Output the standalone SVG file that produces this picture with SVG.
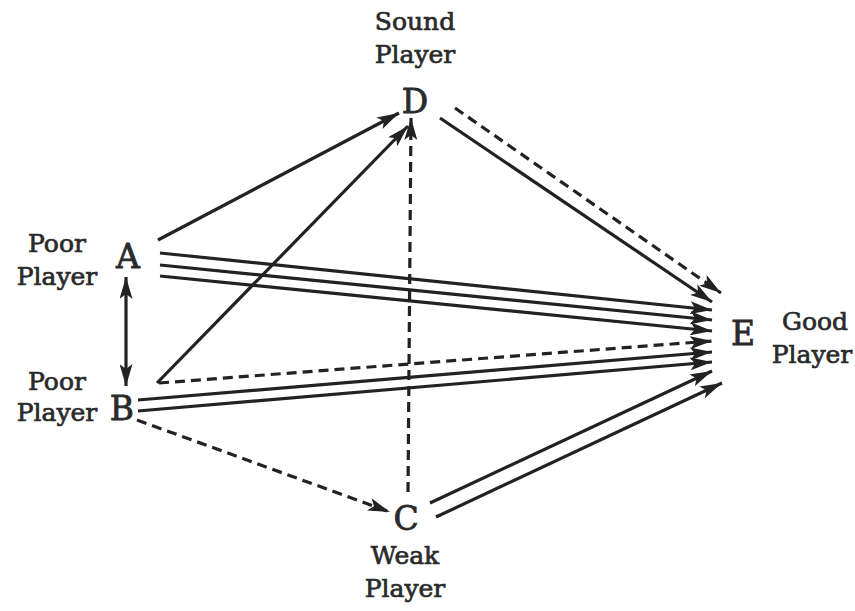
<svg xmlns="http://www.w3.org/2000/svg" width="855" height="611" viewBox="0 0 855 611">
  <style>
    .lbl { font-family: "DejaVu Serif", "Liberation Serif", serif; font-size: 25px; fill: #2a2a2a; stroke: #2a2a2a; stroke-width: 0.7; text-anchor: middle; }
    .node { font-family: "DejaVu Serif", "Liberation Serif", serif; font-size: 33px; fill: #2a2a2a; stroke: #2a2a2a; stroke-width: 0.8; text-anchor: middle; }
    .solid { stroke: #222; stroke-width: 3.2; fill: none; marker-end: url(#ah); }
    .dash { stroke: #222; stroke-width: 3.2; fill: none; stroke-dasharray: 10 6; marker-end: url(#ah); }
  </style>
  <defs>
    <marker id="ah" markerUnits="userSpaceOnUse" markerWidth="24" markerHeight="13" refX="22" refY="6.5" orient="auto">
      <path d="M0,0 L22,6.5 L0,13 L5,6.5 z" fill="#222"/>
    </marker>
    <marker id="ahs" markerUnits="userSpaceOnUse" markerWidth="24" markerHeight="13" refX="22" refY="6.5" orient="auto-start-reverse">
      <path d="M0,0 L22,6.5 L0,13 L5,6.5 z" fill="#222"/>
    </marker>
  </defs>
  <rect width="855" height="611" fill="#ffffff"/>

  <g id="connectors">
    <!-- A to D -->
    <line class="solid" x1="158" y1="240" x2="399" y2="113"/>
    <!-- B to D -->
    <line class="solid" x1="157" y1="383" x2="408" y2="126"/>
    <!-- C to D (dashed) -->
    <line class="dash" x1="408" y1="492" x2="411" y2="118"/>
    <!-- D to E -->
    <line class="solid" x1="440" y1="118" x2="712" y2="302"/>
    <line class="dash" x1="455" y1="108" x2="721" y2="293"/>
    <!-- A to E, three strands -->
    <line class="solid" x1="160" y1="253" x2="712" y2="310"/>
    <line class="solid" x1="160" y1="265" x2="712" y2="320"/>
    <line class="solid" x1="160" y1="276" x2="712" y2="331"/>
    <!-- B to E -->
    <line class="dash" x1="159" y1="383" x2="712" y2="341"/>
    <line class="solid" x1="138" y1="400" x2="712" y2="352"/>
    <line class="solid" x1="138" y1="411" x2="712" y2="362"/>
    <!-- B to C (dashed) -->
    <line class="dash" x1="137" y1="420" x2="390" y2="512"/>
    <!-- C to E -->
    <line class="solid" x1="430" y1="503" x2="712" y2="371"/>
    <line class="solid" x1="436" y1="517" x2="722" y2="383"/>
    <!-- A and B, both ways -->
    <line x1="126" y1="277" x2="126" y2="386" stroke="#222" stroke-width="3.2" marker-start="url(#ahs)" marker-end="url(#ahs)"/>
  </g>

  <g id="node-D">
    <text class="lbl" x="415" y="30">Sound</text>
    <text class="lbl" x="415" y="63">Player</text>
    <text class="node" x="415" y="113">D</text>
  </g>
  <g id="node-A">
    <text class="lbl" x="57" y="252">Poor</text>
    <text class="lbl" x="57" y="285">Player</text>
    <text class="node" x="128" y="268">A</text>
  </g>
  <g id="node-B">
    <text class="lbl" x="57" y="390">Poor</text>
    <text class="lbl" x="57" y="421">Player</text>
    <text class="node" x="122" y="420">B</text>
  </g>
  <g id="node-C">
    <text class="lbl" x="405" y="564">Weak</text>
    <text class="lbl" x="405" y="597">Player</text>
    <text class="node" x="406" y="530">C</text>
  </g>
  <g id="node-E">
    <text class="node" x="743" y="345">E</text>
    <text class="lbl" x="815" y="330">Good</text>
    <text class="lbl" x="812" y="363">Player</text>
  </g>
</svg>
